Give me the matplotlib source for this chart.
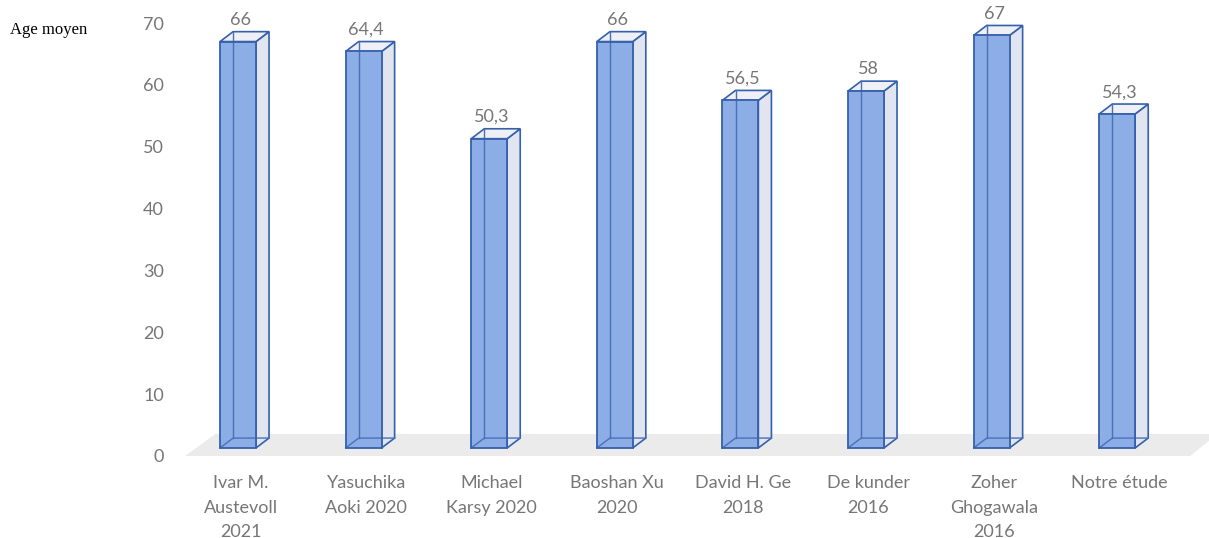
"""Age moyen par étude - barres 3D façon Excel."""
import matplotlib
matplotlib.use("Agg")
import matplotlib.pyplot as plt
from matplotlib.patches import Polygon

plt.rcParams["font.family"] = ["Lato", "DejaVu Sans"]

etudes = ["Ivar M.\nAustevoll\n2021", "Yasuchika\nAoki 2020", "Michael\nKarsy 2020",
          "Baoshan Xu\n2020", "David H. Ge\n2018", "De kunder\n2016",
          "Zoher\nGhogawala\n2016", "Notre étude"]
ages = [66, 64.4, 50.3, 66, 56.5, 58, 67, 54.3]
ages_txt = ["66", "64,4", "50,3", "66", "56,5", "58", "67", "54,3"]

W, H = 1209, 538
fig = plt.figure(figsize=(W / 100, H / 100), dpi=100)
ax = fig.add_axes([175 / W, 1 - 456 / H, (W - 175) / W, (456 - 23) / H])
ax.set_xlim((175 - 238) / 125.6, (W - 238) / 125.6)
ax.set_ylim(0, 70)
for s in ax.spines.values():
    s.set_visible(False)

# plancher gris
ax.add_patch(Polygon([(-0.42, 0), (7.58, 0), (7.8, 3.56), (-0.18, 3.56)],
                     closed=True, facecolor="#ebebeb", edgecolor="none", zorder=0, clip_on=False))

hw, dx, dy, y0 = 0.143, 0.104, 1.6, 1.3
edge = "#3560ab"
for i, (v, t) in enumerate(zip(ages, ages_txt)):
    top = v + 1
    l, r = i - hw, i + hw
    # face droite
    ax.add_patch(Polygon([(r, y0), (r + dx, y0 + dy), (r + dx, top + dy), (r, top)],
                         closed=True, facecolor="#e1e5ef", edgecolor=edge, lw=1.2, zorder=2))
    # dessus
    ax.add_patch(Polygon([(l, top), (r, top), (r + dx, top + dy), (l + dx, top + dy)],
                         closed=True, facecolor="#eef0f6", edgecolor=edge, lw=1.2, zorder=2))
    # face avant
    ax.add_patch(Polygon([(l, y0), (r, y0), (r, top), (l, top)],
                         closed=True, facecolor="#8cadE5", edgecolor="none", zorder=4))
    # arêtes arrière vues par transparence
    ax.plot([l + dx, l + dx], [y0 + dy, top + dy], color="#4a70b6", lw=1.0, zorder=4.5)
    ax.plot([l, l + dx, r + dx], [y0, y0 + dy, y0 + dy], color="#4a70b6", lw=1.0, zorder=4.5)
    ax.add_patch(Polygon([(l, y0), (r, y0), (r, top), (l, top)],
                         closed=True, facecolor="none", edgecolor=edge, lw=1.3, zorder=5))
    ax.text(i + 0.02, top + dy + 0.6, t, ha="center", va="bottom", fontsize=13,
            color="#767676", clip_on=False)

ax.set_yticks(range(0, 71, 10))
ax.tick_params(axis="y", length=0, pad=8, labelsize=13, labelcolor="#767676")
ax.set_xticks([i + 0.02 for i in range(len(etudes))])
ax.set_xticklabels(etudes, fontsize=13, color="#767676", linespacing=1.65)
ax.tick_params(axis="x", length=0, pad=14)

fig.text(10 / W, 1 - 30 / H, "Age moyen", family="Liberation Serif", fontsize=12,
         va="center", ha="left", color="black")

fig.savefig("out.png", dpi=100)
